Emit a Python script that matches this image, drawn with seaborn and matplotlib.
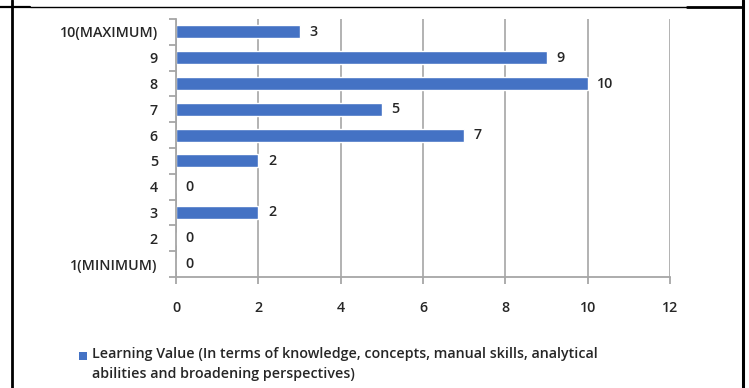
import matplotlib
matplotlib.use("Agg")
import matplotlib.pyplot as plt
from matplotlib.lines import Line2D
from matplotlib.patches import Rectangle
import seaborn as sns
import pandas as pd

# data (top to bottom)
categories = ["10(MAXIMUM)", "9", "8", "7", "6", "5", "4", "3", "2", "1(MINIMUM)"]
values = [3, 9, 10, 5, 7, 2, 0, 2, 0, 0]
series_name = ("Learning Value (In terms of knowledge, concepts, manual skills, analytical\n"
               "abilities and broadening perspectives)")
x_ticks = [0, 2, 4, 6, 8, 10, 12]

bar_color = "#4472C4"
grid_color = "#a6a6a6"
text_color = "#262626"
fs = 10.3

sns.set_style("white")
plt.rcParams["font.family"] = ["Open Sans", "DejaVu Sans"]
plt.rcParams["font.weight"] = "semibold"

df = pd.DataFrame({"category": categories, "value": values})

fig = plt.figure(figsize=(7.49, 3.88), dpi=100)
ax = fig.add_axes([176 / 749, 1 - 277 / 388, (670 - 176) / 749, (277 - 19) / 388])

sns.barplot(data=df, x="value", y="category", orient="h", color=bar_color,
            width=0.5, saturation=1, ax=ax, order=categories)

ax.set_xlim(0, 12)
ax.set_ylim(len(categories) - 0.5, -0.5)
ax.set_xticks(x_ticks)
ax.set_xticklabels([str(t) for t in x_ticks])
ax.xaxis.grid(True, color=grid_color, linewidth=1.2)
ax.yaxis.grid(False)
ax.set_axisbelow(True)
ax.set_xlabel("")
ax.set_ylabel("")

for s in ["top", "right"]:
    ax.spines[s].set_visible(False)
for s in ["left", "bottom"]:
    ax.spines[s].set_visible(True)
    ax.spines[s].set_color(grid_color)
    ax.spines[s].set_linewidth(1.3)
    ax.spines[s].set_zorder(5)

# tick marks between categories on the y axis
ax.set_yticks([i - 0.5 for i in range(len(categories) + 1)], minor=True)
ax.tick_params(axis="y", which="minor", left=True, length=5, color=grid_color, width=1.3, direction="out")
ax.tick_params(axis="y", which="major", left=False, length=0, pad=13, labelsize=fs, labelcolor=text_color)
ax.tick_params(axis="x", which="major", bottom=True, length=5, color=grid_color, width=1.3,
               direction="out", pad=12, labelsize=fs, labelcolor=text_color)

for c in ax.containers:
    ax.bar_label(c, labels=[str(v) for v in values], padding=7, fontsize=fs, color=text_color)

# legend key and text
fig.add_artist(Rectangle((79 / 749, 1 - 360 / 388), 8 / 749, 8 / 388,
                         transform=fig.transFigure, facecolor=bar_color, edgecolor="none"))
fig.text(92 / 749, 1 - 347 / 388, series_name, fontsize=fs, color=text_color,
         va="top", ha="left", multialignment="left", linespacing=1.55)

# document table borders
fig.add_artist(Line2D([12 / 749, 12 / 749], [0, 1], transform=fig.transFigure, color="black", linewidth=2))
fig.add_artist(Line2D([743 / 749, 743 / 749], [0, 1], transform=fig.transFigure, color="black", linewidth=2.2))
fig.add_artist(Line2D([0, 30 / 749], [1 - 6.5 / 388] * 2, transform=fig.transFigure, color="black", linewidth=1.6))
fig.add_artist(Line2D([30 / 749, 687 / 749], [1 - 6.5 / 388] * 2, transform=fig.transFigure, color="black", linewidth=1.0))
fig.add_artist(Line2D([687 / 749, 743 / 749], [1 - 6.5 / 388] * 2, transform=fig.transFigure, color="black", linewidth=2))

fig.savefig("out.png", dpi=100)
